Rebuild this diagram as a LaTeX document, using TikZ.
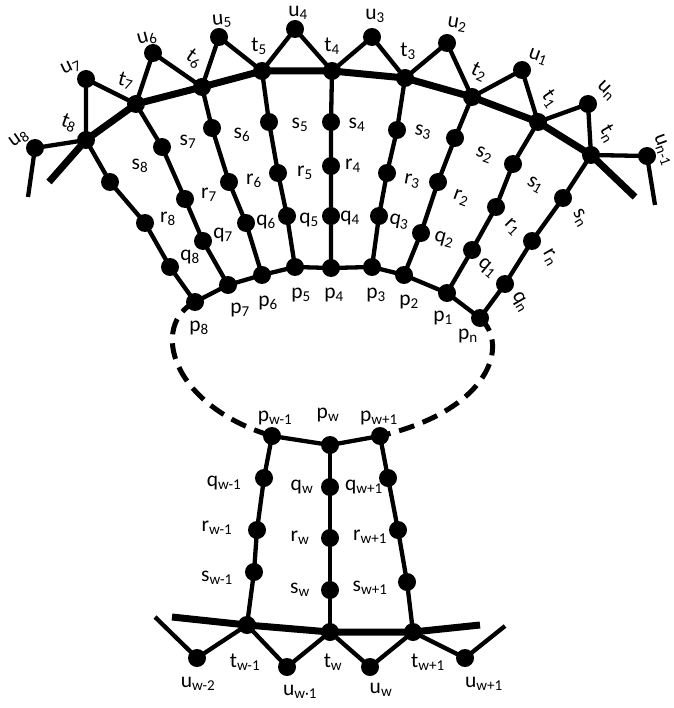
\documentclass[tikz,border=0pt]{standalone}
\usepackage{fontspec}
\setmainfont{Carlito}
\begin{document}
\begin{tikzpicture}[x=1pt,y=-1pt,
  dot/.style={circle,fill=black,inner sep=0pt,minimum size=18pt},
  lab/.style={inner sep=0pt,font=\fontsize{21.5}{24}\selectfont},
  thickline/.style={line width=7pt,line join=round},
  thinline/.style={line width=4.3pt,line join=round},
  dashline/.style={line width=5pt,dash pattern=on 16pt off 9pt}]
\useasboundingbox (0,0) rectangle (673,708);
% ---- top t/u nodes
\node[dot] (u8) at (35,148) {};
\node[dot] (t8) at (86,140) {};
\node[dot] (u7) at (86,79) {};
\node[dot] (t7) at (136,104) {};
\node[dot] (u6) at (153,53) {};
\node[dot] (t6) at (202,87) {};
\node[dot] (u5) at (219,37) {};
\node[dot] (t5) at (262,71) {};
\node[dot] (u4) at (295,29) {};
\node[dot] (t4) at (332,71) {};
\node[dot] (u3) at (372,37) {};
\node[dot] (t3) at (405,78) {};
\node[dot] (u2) at (447,43) {};
\node[dot] (t2) at (472,97) {};
\node[dot] (u1) at (522,70) {};
\node[dot] (t1) at (538,122) {};
\node[dot] (un) at (588,104) {};
\node[dot] (tn) at (591,155) {};
\node[dot] (un1) at (647,156) {};
\coordinate (eu8) at (28,197);
\coordinate (et8) at (49,182);
\coordinate (etn) at (635,197);
\coordinate (eun1) at (655,205);
% ---- spokes
\node[dot] (s8) at (110,182) {};
\node[dot] (r8) at (145,223) {};
\node[dot] (q8) at (170,267) {};
\node[dot] (p8) at (195,302) {};
\node[dot] (s7) at (162,147) {};
\node[dot] (r7) at (185,199) {};
\node[dot] (q7) at (203,241) {};
\node[dot] (p7) at (228,285) {};
\node[dot] (s6) at (212,128) {};
\node[dot] (r6) at (229,182) {};
\node[dot] (q6) at (246,223) {};
\node[dot] (p6) at (262,275) {};
\node[dot] (s5) at (269,122) {};
\node[dot] (r5) at (278,173) {};
\node[dot] (q5) at (287,216) {};
\node[dot] (p5) at (295,267) {};
\node[dot] (s4) at (331,122) {};
\node[dot] (r4) at (331,166) {};
\node[dot] (q4) at (331,216) {};
\node[dot] (p4) at (331,268) {};
\node[dot] (s3) at (397,130) {};
\node[dot] (r3) at (387,173) {};
\node[dot] (q3) at (379,216) {};
\node[dot] (p3) at (372,267) {};
\node[dot] (s2) at (455,138) {};
\node[dot] (r2) at (438,182) {};
\node[dot] (q2) at (421,233) {};
\node[dot] (p2) at (404,275) {};
\node[dot] (s1) at (513,164) {};
\node[dot] (r1) at (496,207) {};
\node[dot] (q1) at (472,250) {};
\node[dot] (p1) at (447,293) {};
\node[dot] (sn) at (563,198) {};
\node[dot] (rn) at (532,241) {};
\node[dot] (qn) at (505,284) {};
\node[dot] (pn) at (480,318) {};
% ---- bottom
\node[dot] (pwm) at (272,436) {};
\node[dot] (qwm) at (264,478) {};
\node[dot] (rwm) at (257,530) {};
\node[dot] (swm) at (254,572) {};
\node[dot] (twm) at (247,625) {};
\node[dot] (pw) at (330,445) {};
\node[dot] (qw) at (330,487) {};
\node[dot] (rw) at (330,538) {};
\node[dot] (sw) at (330,590) {};
\node[dot] (tw) at (330,632) {};
\node[dot] (pwp) at (380,436) {};
\node[dot] (qwp) at (388,478) {};
\node[dot] (rwp) at (398,530) {};
\node[dot] (swp) at (407,582) {};
\node[dot] (twp) at (413,632) {};
\node[dot] (uwmm) at (197,658) {};
\node[dot] (uwm) at (287,667) {};
\node[dot] (uw) at (370,667) {};
\node[dot] (uwp) at (465,658) {};
\coordinate (bl) at (172,617);
\coordinate (br) at (480,625);
\coordinate (zl) at (155,617);
\coordinate (zr) at (505,626);
% ---- lines top
\draw[thickline] (et8) -- (t8.center) -- (t7.center) -- (t6.center) -- (t5.center) -- (t4.center)
  -- (t3.center) -- (t2.center) -- (t1.center) -- (tn.center) -- (etn);
\draw[thinline] (eu8) -- (u8.center) -- (t8.center) -- (u7.center) -- (t7.center) -- (u6.center)
  -- (t6.center) -- (u5.center) -- (t5.center) -- (u4.center) -- (t4.center) -- (u3.center)
  -- (t3.center) -- (u2.center) -- (t2.center) -- (u1.center) -- (t1.center) -- (un.center)
  -- (tn.center) -- (un1.center) -- (eun1);
\foreach \i in {8,7,6,5,4,3,2,1,n}{
  \draw[thinline] (t\i.center) -- (s\i.center) -- (r\i.center) -- (q\i.center) -- (p\i.center);
}
\draw[thinline] (p8.center) -- (p7.center) -- (p6.center) -- (p5.center) -- (p4.center)
  -- (p3.center) -- (p2.center) -- (p1.center) -- (pn.center);
% ---- dashed loop
\draw[dashline] (p8.center) .. controls (150,325) and (170,405) .. (pwm.center);
\draw[dashline] (pn.center) .. controls (510,345) and (490,410) .. (pwp.center);
\draw[thinline] (pwm.center) -- (pw.center) -- (pwp.center);
% ---- bottom lines
\draw[thinline] (pwm.center) -- (qwm.center) -- (rwm.center) -- (swm.center) -- (twm.center);
\draw[thinline] (pw.center) -- (qw.center) -- (rw.center) -- (sw.center) -- (tw.center);
\draw[thinline] (pwp.center) -- (qwp.center) -- (rwp.center) -- (swp.center) -- (twp.center);
\draw[thickline] (bl) -- (twm.center) -- (tw.center) -- (twp.center) -- (br);
\draw[thinline] (zl) -- (uwmm.center) -- (twm.center) -- (uwm.center) -- (tw.center)
  -- (uw.center) -- (twp.center) -- (uwp.center) -- (zr);
% ---- labels top
\node[lab,rotate=35] (lu8) at (19,139) {u\textsubscript{8}};
\node[lab,rotate=-20] (lt8) at (69,123) {t\textsubscript{8}};
\node[lab,rotate=25] (lu7) at (71,67) {u\textsubscript{7}};
\node[lab,rotate=-15] (lt7) at (126,81) {t\textsubscript{7}};
\node[lab,rotate=15] (lu6) at (147,39) {u\textsubscript{6}};
\node[lab,rotate=-35] (lt6) at (194,59) {t\textsubscript{6}};
\node[lab,rotate=5] (lu5) at (222,21) {u\textsubscript{5}};
\node[lab] (lt5) at (259,46) {t\textsubscript{5}};
\node[lab] (lu4) at (298,13) {u\textsubscript{4}};
\node[lab] (lt4) at (332,46) {t\textsubscript{4}};
\node[lab] (lu3) at (375,16) {u\textsubscript{3}};
\node[lab] (lt3) at (408,51) {t\textsubscript{3}};
\node[lab,rotate=-10] (lu2) at (457,25) {u\textsubscript{2}};
\node[lab,rotate=-25] (lt2) at (479,72) {t\textsubscript{2}};
\node[lab,rotate=-20] (lu1) at (538,57) {u\textsubscript{1}};
\node[lab,rotate=-55] (lt1) at (550,99) {t\textsubscript{1}};
\node[lab,rotate=-45] (lun) at (606,91) {u\textsubscript{n}};
\node[lab,rotate=-60] (ltn) at (608,134) {t\textsubscript{n}};
\node[lab,rotate=-70] (lun1) at (663,150) {u\textsubscript{n-1}};
% ---- spoke labels
\node[lab] (ls8) at (140,166) {s\textsubscript{8}};
\node[lab] (ls7) at (188,142) {s\textsubscript{7}};
\node[lab] (ls6) at (242,135) {s\textsubscript{6}};
\node[lab] (ls5) at (300,125) {s\textsubscript{5}};
\node[lab] (ls4) at (357,125) {s\textsubscript{4}};
\node[lab,rotate=-10] (ls3) at (423,132) {s\textsubscript{3}};
\node[lab,rotate=-20] (ls2) at (484,155) {s\textsubscript{2}};
\node[lab,rotate=-30] (ls1) at (535,185) {s\textsubscript{1}};
\node[lab,rotate=-60] (lsn) at (580,218) {s\textsubscript{n}};
\node[lab] (lr8) at (168,219) {r\textsubscript{8}};
\node[lab] (lr7) at (209,195) {r\textsubscript{7}};
\node[lab] (lr6) at (254,181) {r\textsubscript{6}};
\node[lab] (lr5) at (305,173) {r\textsubscript{5}};
\node[lab] (lr4) at (353,166) {r\textsubscript{4}};
\node[lab,rotate=-10] (lr3) at (412,181) {r\textsubscript{3}};
\node[lab,rotate=-20] (lr2) at (461,198) {r\textsubscript{2}};
\node[lab,rotate=-45] (lr1) at (512,227) {r\textsubscript{1}};
\node[lab,rotate=-60] (lrn) at (550,258) {r\textsubscript{n}};
\node[lab] (lq8) at (190,257) {q\textsubscript{8}};
\node[lab] (lq7) at (223,235) {q\textsubscript{7}};
\node[lab] (lq6) at (266,222) {q\textsubscript{6}};
\node[lab] (lq5) at (309,220) {q\textsubscript{5}};
\node[lab] (lq4) at (350,218) {q\textsubscript{4}};
\node[lab,rotate=-10] (lq3) at (399,222) {q\textsubscript{3}};
\node[lab,rotate=-15] (lq2) at (444,240) {q\textsubscript{2}};
\node[lab,rotate=-40] (lq1) at (487,268) {q\textsubscript{1}};
\node[lab,rotate=-60] (lqn) at (520,302) {q\textsubscript{n}};
\node[lab] (lp8) at (199,328) {p\textsubscript{8}};
\node[lab] (lp7) at (240,310) {p\textsubscript{7}};
\node[lab] (lp6) at (268,303) {p\textsubscript{6}};
\node[lab] (lp5) at (301,295) {p\textsubscript{5}};
\node[lab] (lp4) at (334,295) {p\textsubscript{4}};
\node[lab] (lp3) at (376,295) {p\textsubscript{3}};
\node[lab] (lp2) at (409,302) {p\textsubscript{2}};
\node[lab] (lp1) at (443,318) {p\textsubscript{1}};
\node[lab] (lpn) at (468,336) {p\textsubscript{n}};
% ---- bottom labels
\node[lab] (lpwm) at (275,418) {p\textsubscript{w-1}};
\node[lab] (lpw) at (328,415) {p\textsubscript{w}};
\node[lab] (lpwp) at (379,418) {p\textsubscript{w+1}};
\node[lab] (lqwm) at (224,483) {q\textsubscript{w-1}};
\node[lab] (lqw) at (302,487) {q\textsubscript{w}};
\node[lab] (lqwp) at (364,487) {q\textsubscript{w+1}};
\node[lab] (lrwm) at (217,528) {r\textsubscript{w-1}};
\node[lab] (lrw) at (300,538) {r\textsubscript{w}};
\node[lab] (lrwp) at (370,537) {r\textsubscript{w+1}};
\node[lab] (lswm) at (217,578) {s\textsubscript{w-1}};
\node[lab] (lsw) at (300,590) {s\textsubscript{w}};
\node[lab] (lswp) at (370,588) {s\textsubscript{w+1}};
\node[lab] (ltwm) at (245,662) {t\textsubscript{w-1}};
\node[lab] (ltw) at (333,662) {t\textsubscript{w}};
\node[lab] (ltwp) at (428,662) {t\textsubscript{w+1}};
\node[lab] (luwmm) at (198,684) {u\textsubscript{w-2}};
\node[lab] (luwm) at (300,692) {u\textsubscript{w·1}};
\node[lab] (luw) at (381,690) {u\textsubscript{w}};
\node[lab] (luwp) at (484,684) {u\textsubscript{w+1}};
\end{tikzpicture}
\end{document}
